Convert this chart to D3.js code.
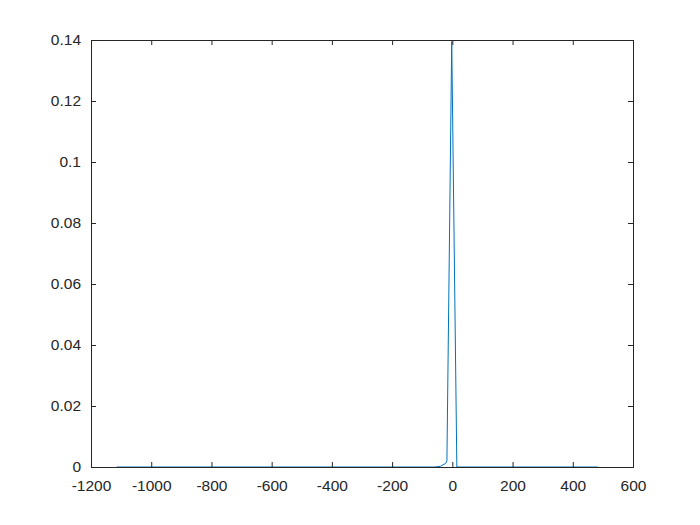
<!DOCTYPE html>
<html><head><meta charset="utf-8">
<script src="https://cdn.jsdelivr.net/npm/d3@7"></script>
<style>body{margin:0;background:#fff}svg{display:block}</style>
</head><body>
<script>
const xValues = [-1114, -200, -60, -40, -22, -18, -2, 15, 483];
const yValues = [0, 0, 0, 0.0002, 0.0012, 0.002, 0.1395, 0, 0];
const xTicks = [-1200, -1000, -800, -600, -400, -200, 0, 200, 400, 600];
const yTicks = [0, 0.02, 0.04, 0.06, 0.08, 0.1, 0.12, 0.14];

const W = 700, H = 525;
const m = {l: 91, r: 67, t: 40, b: 58};
const svg = d3.select("body").append("svg").attr("width", W).attr("height", H);
const x = d3.scaleLinear().domain([-1200, 600]).range([m.l, W - m.r]);
const y = d3.scaleLinear().domain([0, 0.14]).range([H - m.b, m.t]);
const ax = "#262626";
const font = "'Liberation Sans', Arial, sans-serif";

const pts = xValues.map((v, i) => [v, yValues[i]]);
svg.append("path").datum(pts)
  .attr("d", d3.line().x(d => x(d[0])).y(d => y(d[1])))
  .attr("fill", "none").attr("stroke", "#0072BD").attr("stroke-width", 1);

const xAxisB = svg.append("g").attr("transform", `translate(0,${H - m.b})`)
  .call(d3.axisBottom(x).tickValues(xTicks).tickSize(-5).tickPadding(13).tickFormat(d => String(d)));
const xAxisT = svg.append("g").attr("transform", `translate(0,${m.t})`)
  .call(d3.axisTop(x).tickValues(xTicks).tickSize(-5).tickFormat(""));
const yAxisL = svg.append("g").attr("transform", `translate(${m.l},0)`)
  .call(d3.axisLeft(y).tickValues(yTicks).tickSize(-5).tickPadding(10).tickFormat(d => String(+d.toFixed(2))));
const yAxisR = svg.append("g").attr("transform", `translate(${W - m.r},0)`)
  .call(d3.axisRight(y).tickValues(yTicks).tickSize(-5).tickFormat(""));

[xAxisB, xAxisT, yAxisL, yAxisR].forEach(g => {
  g.select(".domain").attr("stroke", ax).attr("stroke-width", 1);
  g.selectAll(".tick line").attr("stroke", ax);
  g.selectAll("text").attr("fill", ax).style("font-family", font).style("font-size", "15.5px");
});
</script>
</body></html>
